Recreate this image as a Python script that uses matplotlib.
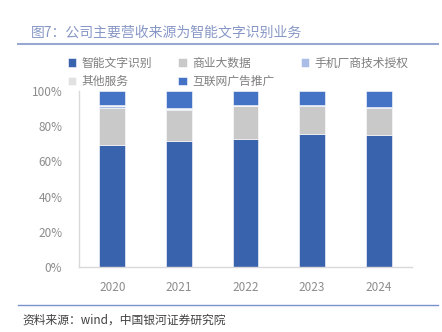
import matplotlib.pyplot as plt
import numpy as np
from matplotlib.lines import Line2D

plt.rcParams['font.family'] = ['Noto Sans CJK SC', 'DejaVu Sans']

years = ['2020', '2021', '2022', '2023', '2024']
series_names = ['智能文字识别', '商业大数据', '手机厂商技术授权', '其他服务', '互联网广告推广']
ocr = [69.3, 71.6, 72.9, 75.6, 75.0]
bigdata = [21.2, 17.8, 18.6, 16.1, 15.5]
phone = [0.8, 0.5, 0.2, 0.2, 0.3]
other = [0.9, 0.3, 0.1, 0.1, 0.2]
ad = [7.8, 9.8, 8.2, 8.0, 9.0]
colors = ['#3a63ae', '#c9c9c9', '#a9bde6', '#e1e1e1', '#4472c4']

tick_color = '#8c8c8c'

fig = plt.figure(figsize=(4.42, 3.32), dpi=100)
ax = fig.add_axes([79/442, 65/332, 333/442, 176/332])

x = np.arange(len(years))
bottom = np.zeros(len(years))
for name, vals, c in zip(series_names, [ocr, bigdata, phone, other, ad], colors):
    ax.bar(x, vals, width=0.39, bottom=bottom, color=c, edgecolor='white', linewidth=0.4, label=name)
    bottom += np.array(vals)

ax.set_xlim(-0.5, 4.5)
ax.set_ylim(0, 100)
ax.set_yticks(np.arange(0, 101, 20))
ax.set_yticklabels([f'{v}%' for v in range(0, 101, 20)])
ax.set_xticks(x, years)
ax.tick_params(length=0, labelsize=8.5, colors=tick_color)
ax.tick_params(axis='y', pad=12)
ax.tick_params(axis='x', pad=10)
for s in ['top', 'right']:
    ax.spines[s].set_visible(False)
for s in ['left', 'bottom']:
    ax.spines[s].set_color('#d9d9d9')
    ax.spines[s].set_linewidth(1)

# legend, row-major order like the original
handles, labels = ax.get_legend_handles_labels()
order = [0, 3, 1, 4, 2]
leg = fig.legend([handles[i] for i in order], [labels[i] for i in order],
                 loc='upper left', bbox_to_anchor=(57/442, 1 - 46/332), ncols=3,
                 frameon=False, fontsize=8.5, handlelength=0.7, handleheight=0.7,
                 columnspacing=2.2, handletextpad=0.5, labelspacing=0.45)
for t in leg.get_texts():
    t.set_color('#7f7f7f')

# title and rules
fig.text(31/442, 1 - 33/332, '图7：公司主要营收来源为智能文字识别业务', fontsize=10,
         color='#8797c6', va='center', ha='left')
fig.add_artist(Line2D([18/442, 438/442], [1 - 44/332, 1 - 44/332], color='#98a8d2', lw=1.5))
fig.add_artist(Line2D([18/442, 438/442], [1 - 305/332, 1 - 305/332], color='#7a92cc', lw=1))
fig.text(22/442, 1 - 320/332, '资料来源：wind，中国银河证券研究院', fontsize=8.5,
         color='#404040', va='center', ha='left', style='italic')

fig.savefig('out.png', dpi=100)
